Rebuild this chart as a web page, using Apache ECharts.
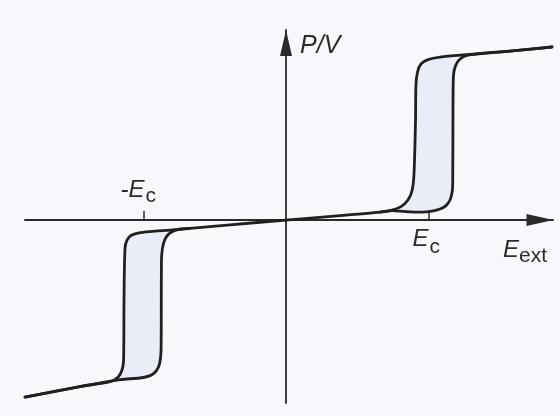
<!DOCTYPE html>
<html>
<head>
<meta charset="utf-8">
<script src="https://cdn.jsdelivr.net/npm/echarts@6/dist/echarts.min.js"></script>
<style>
  html, body { margin: 0; padding: 0; background: #f7f8fc; }
  #chart { width: 560px; height: 416px; }
</style>
</head>
<body>
<div id="chart"></div>
<script>
// Double hysteresis loop of an antiferroelectric: P/V versus external field.
// Field in units where the coercive field Ec = 10.

// Rising field, right loop: linear region, switching up, saturation
const rightRising = [
  [0, 0], [3.79, 0.26], [6.60, 0.47], [7.44, 0.59], [8.07, 0.79], [8.56, 1.18],
  [8.84, 1.71], [8.98, 2.65], [9.09, 5.88], [9.12, 7.94], [9.23, 8.71],
  [9.47, 9.18], [9.96, 9.44], [10.81, 9.59], [12.91, 9.74], [15.72, 9.94], [18.67, 10.18]
];
// Falling field, right loop: back from saturation down to the linear region
const rightFalling = [
  [18.67, 10.18], [15.72, 9.94], [13.26, 9.76], [12.56, 9.65], [12.14, 9.41],
  [11.89, 9.06], [11.75, 8.47], [11.72, 6.47], [11.70, 2.06], [11.65, 1.59],
  [11.51, 1.18], [11.23, 0.85], [10.81, 0.65], [10.25, 0.53], [9.54, 0.47], [8.4, 0.50],
  [7.44, 0.56], [6.60, 0.47]
];
// Falling field, left loop
const leftFalling = [
  [0, 0], [-3.93, -0.28], [-6.74, -0.49], [-8.14, -0.59], [-9.54, -0.68],
  [-10.32, -0.76], [-10.88, -0.91], [-11.16, -1.18], [-11.30, -1.65], [-11.37, -4.71],
  [-11.40, -8.24], [-11.51, -8.82], [-11.79, -9.24], [-12.35, -9.50], [-14.46, -9.79], [-18.32, -10.41]
];
// Rising field, left loop
const leftRising = [
  [-18.32, -10.41], [-14.46, -9.79], [-11.65, -9.38], [-10.25, -9.29], [-9.54, -9.15],
  [-9.12, -8.88], [-8.88, -8.47], [-8.77, -7.65], [-8.74, -2.35], [-8.67, -1.65],
  [-8.49, -1.12], [-8.14, -0.76], [-7.58, -0.56], [-6.74, -0.49]
];

// Coercive field positions marked on the field axis
const coerciveTicks = [-10, 10];

const between = (lo, hi) => p => p[0] >= lo && p[0] <= hi;
const loops = [
  rightRising.filter(between(7.4, 13.3)).concat(rightFalling.filter(between(7.4, 13.3))),
  leftFalling.filter(between(-12.4, -8.1)).concat(leftRising.filter(between(-12.4, -8.1)))
];

const ink = '#202020';
const chart = echarts.init(document.getElementById('chart'));

const curve = (data) => ({
  type: 'line', data, symbol: 'none', smooth: 0.3, z: 3,
  lineStyle: { color: ink, width: 2.8, cap: 'round', join: 'round' }
});

chart.setOption({
  backgroundColor: '#f7f8fc',
  animation: false,
  grid: { left: 25, right: 7, top: 30, bottom: 13 },
  xAxis: {
    type: 'value', min: -18.32, max: 18.74,
    splitLine: { show: false },
    axisLabel: { show: false },
    axisLine: { onZero: true, symbol: ['none', 'triangle'], symbolSize: [12, 27],
      symbolOffset: [0, -13], lineStyle: { color: '#2a2a2a', width: 1.8 } },
    axisTick: { show: true, inside: true, length: 9, customValues: coerciveTicks,
      lineStyle: { color: '#2a2a2a', width: 1.5 } }
  },
  yAxis: {
    type: 'value', min: -10.76, max: 11.18,
    splitLine: { show: false },
    axisLabel: { show: false },
    axisTick: { show: false },
    axisLine: { onZero: true, symbol: ['none', 'triangle'], symbolSize: [12, 26],
      symbolOffset: [0, -13], lineStyle: { color: '#2a2a2a', width: 1.8 } }
  },
  series: [
    {
      type: 'custom', z: 1, clip: false,
      data: [[0, 0], [0, 0]],
      renderItem: (params, api) => ({
        type: 'polygon',
        shape: { points: loops[params.dataIndex].map(p => api.coord(p)), smooth: 0.3 },
        style: { fill: '#e8edf7', stroke: null }
      })
    },
    curve(rightRising),
    curve(rightFalling),
    curve(leftFalling),
    curve(leftRising)
  ]
});

// Axis titles and coercive-field labels
const font = '"Liberation Sans", Arial, sans-serif';
const txt = '#2b2b2b';
const pos = v => chart.convertToPixel({ gridIndex: 0 }, v);
const ecR = pos([coerciveTicks[1], 0]);
const ecL = pos([coerciveTicks[0], 0]);
const origin = pos([0, 0]);

const label = (text, x, y, size, italic) => ({
  type: 'text', x, y,
  style: { text, fontFamily: font, fontSize: size, fontStyle: italic ? 'italic' : 'normal',
    fill: txt, align: 'left', verticalAlign: 'middle' }
});

chart.setOption({
  graphic: [
    label('P/V', origin[0] + 14, 46, 25, true),
    label('E', 503, 250, 24, true),
    label('ext', 519, 256, 21, false),
    label('E', ecR[0] - 16, 239, 24, true),
    label('c', ecR[0] + 1, 247, 21, false),
    label('-E', ecL[0] - 23, 190, 24, true),
    label('c', ecL[0] + 2, 196, 21, false)
  ]
});
</script>
</body>
</html>
